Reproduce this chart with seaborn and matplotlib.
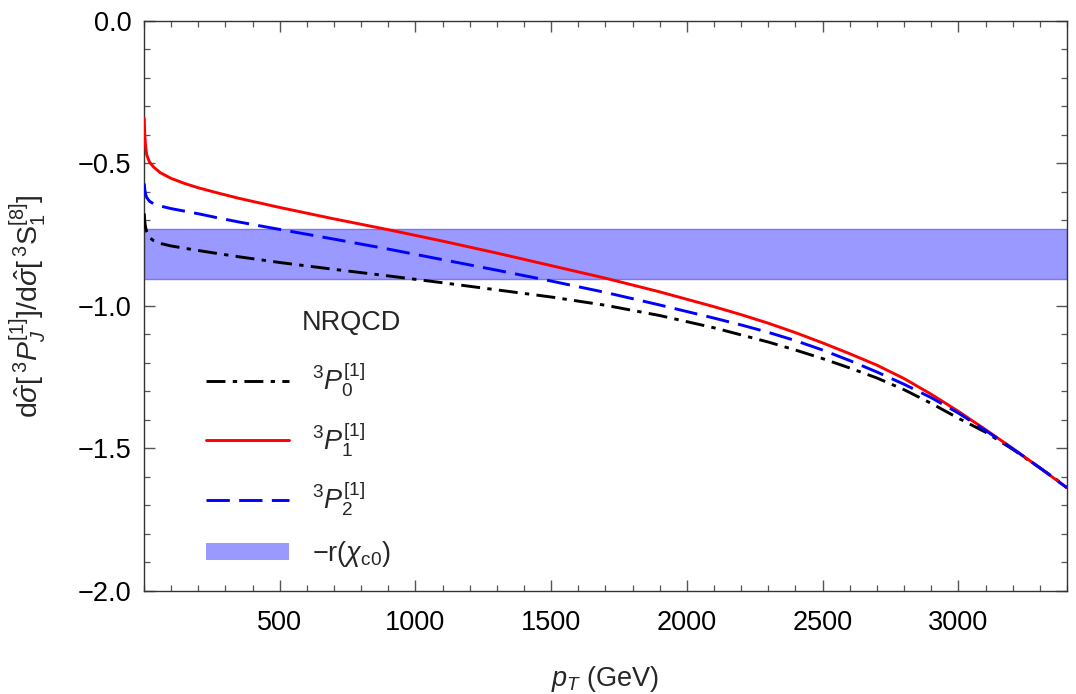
import numpy as np
import pandas as pd
import matplotlib
matplotlib.use("Agg")
import matplotlib.pyplot as plt
from matplotlib.lines import Line2D
from matplotlib.patches import Patch
from matplotlib.ticker import MultipleLocator
import seaborn as sns

# ---- data ----
pT = [1, 3, 6, 10, 20, 35, 60, 100, 150, 200,
      275, 350, 500, 700, 900, 1100, 1300, 1500, 1700, 1900,
      2100, 2200, 2300, 2400, 2500, 2600, 2700, 2800, 2900, 3000,
      3100, 3200, 3300, 3350, 3400]
P0 = [-0.676, -0.705, -0.725, -0.740, -0.760, -0.771, -0.781, -0.790, -0.798, -0.806,
      -0.817, -0.828, -0.848, -0.872, -0.895, -0.919, -0.944, -0.969, -0.998, -1.034,
      -1.077, -1.102, -1.127, -1.155, -1.185, -1.218, -1.253, -1.294, -1.342, -1.394,
      -1.443, -1.503, -1.568, -1.601, -1.638]
P1 = [-0.342, -0.400, -0.440, -0.470, -0.495, -0.513, -0.533, -0.553, -0.571, -0.586,
      -0.605, -0.623, -0.655, -0.695, -0.733, -0.773, -0.815, -0.859, -0.903, -0.951,
      -1.003, -1.031, -1.061, -1.094, -1.130, -1.168, -1.208, -1.255, -1.310, -1.370,
      -1.434, -1.500, -1.568, -1.603, -1.638]
P2 = [-0.571, -0.592, -0.608, -0.620, -0.633, -0.642, -0.650, -0.659, -0.668, -0.677,
      -0.692, -0.706, -0.732, -0.766, -0.801, -0.838, -0.875, -0.913, -0.953, -0.997,
      -1.043, -1.067, -1.093, -1.122, -1.155, -1.192, -1.232, -1.275, -1.322, -1.376,
      -1.437, -1.501, -1.568, -1.603, -1.638]
band_lo = -0.907
band_hi = -0.731

series_names = ["P0", "P1", "P2"]
series_labels = [r"${}^3P_0^{[1]}$", r"${}^3P_1^{[1]}$", r"${}^3P_2^{[1]}$"]
band_label = r"$-\mathrm{r}(\chi_{\mathrm{c0}})$"
legend_title = "NRQCD"
xticks = [500, 1000, 1500, 2000, 2500, 3000]
yticks = [0.0, -0.5, -1.0, -1.5, -2.0]

df = pd.DataFrame({
    "pT": pT * 3,
    "val": P0 + P1 + P2,
    "state": ["P0"] * len(pT) + ["P1"] * len(pT) + ["P2"] * len(pT),
})

# ---- styling ----
sns.set_theme(style="ticks")
plt.rcParams["font.family"] = ["Liberation Sans", "DejaVu Sans"]
plt.rcParams["mathtext.fontset"] = "custom"
plt.rcParams["mathtext.rm"] = "Liberation Sans"
plt.rcParams["mathtext.it"] = "Liberation Sans:italic"
plt.rcParams["mathtext.bf"] = "Liberation Sans:bold"
plt.rcParams["mathtext.sf"] = "Liberation Sans"

FS = 19.5
colors = {"P0": "black", "P1": "#ff0000", "P2": "#0000ff"}
dashes = {"P0": (6.5, 2.5, 1.5, 2.5), "P1": "", "P2": (8, 3.2)}
band_color = "#9999ff"
LW = 2.1

fig = plt.figure(figsize=(10.76, 6.94), dpi=100)
ax = fig.add_axes([0.1338, 0.1484, 0.8578, 0.8218])

ax.axhspan(band_lo, band_hi, facecolor=band_color, edgecolor="#7878f0",
           linewidth=1.0, zorder=1)

sns.lineplot(data=df, x="pT", y="val", hue="state", style="state",
             palette=colors, dashes=dashes, linewidth=LW, legend=False,
             estimator=None, sort=True, ax=ax, zorder=3)

ax.set_xlim(0, 3400)
ax.set_ylim(-2.0, 0.0)
ax.set_xticks(xticks)
ax.set_yticks(yticks)
ax.set_yticklabels([f"{v:.1f}".replace("-", "\u2212") for v in yticks])
ax.xaxis.set_minor_locator(MultipleLocator(100))
ax.yaxis.set_minor_locator(MultipleLocator(0.1))
ax.tick_params(which="both", direction="in", top=True, right=True,
               labelsize=FS, colors="#555555", labelcolor="black")
ax.tick_params(which="major", length=8, width=1.0)
ax.tick_params(which="minor", length=4.5, width=0.9)
ax.tick_params(axis="x", which="major", pad=14)
ax.tick_params(axis="y", which="major", pad=9)
for s in ax.spines.values():
    s.set_color("#333333")
    s.set_linewidth(1.0)

ax.set_xlabel(r"$p_T$ (GeV)", fontsize=FS, labelpad=20)
ax.set_ylabel(r"$\mathrm{d}\hat{\sigma}[\,{}^3P_J^{[1]}]/\mathrm{d}\hat{\sigma}[\,{}^3\mathrm{S}_1^{[8]}]$",
              fontsize=20.5, labelpad=21)

handles = [
    Line2D([], [], color=colors["P0"], lw=LW, linestyle=(0, dashes["P0"])),
    Line2D([], [], color=colors["P1"], lw=LW, linestyle="-"),
    Line2D([], [], color=colors["P2"], lw=LW, linestyle=(0, dashes["P2"])),
    Patch(facecolor=band_color, edgecolor="none"),
]
leg = ax.legend(handles, series_labels + [band_label], loc="upper left",
                bbox_to_anchor=(0.041, 0.447), frameon=False, fontsize=FS,
                handlelength=3.07, handleheight=0.6, handletextpad=0.85,
                labelspacing=0.76)
ax.text(0.171, 0.47, legend_title, transform=ax.transAxes, fontsize=FS,
        va="center", ha="left")

fig.savefig("out.png", dpi=100)
